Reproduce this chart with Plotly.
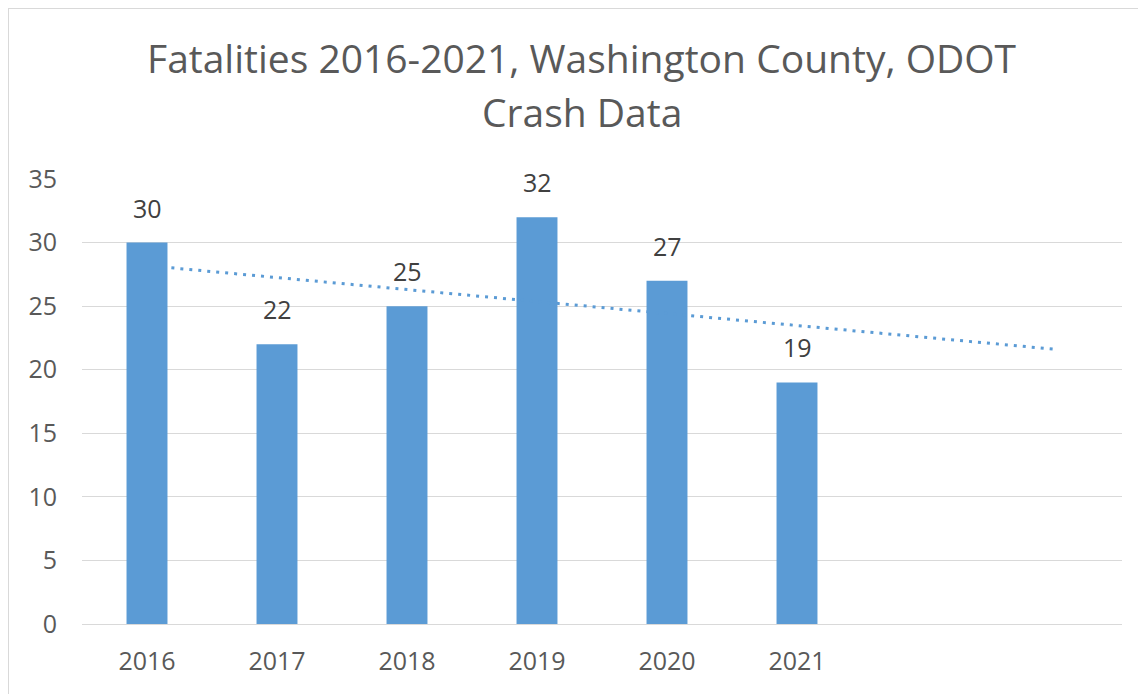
import numpy as np
import plotly.graph_objects as go

years = [2016, 2017, 2018, 2019, 2020, 2021]
fatalities = [30, 22, 25, 32, 27, 19]
y_ticks = [0, 5, 10, 15, 20, 25, 30, 35]
forecast_periods = 2
title_lines = ["Fatalities 2016-2021, Washington County, ODOT", "Crash Data"]

BAR_COLOR = "#5B9BD5"
TEXT_GRAY = "#595959"
LABEL_GRAY = "#404040"
GRID = "#D9D9D9"
FONT = "Open Sans"

# Linear trendline (least squares fit, like Excel), forecast forward 2 periods
coef = np.polyfit(years, fatalities, 1)
bar_width = 0.315
trend_x = np.array([years[0] + bar_width / 2 + 0.03, years[-1] + forecast_periods])
trend_y = np.polyval(coef, trend_x)

W, H = 1138, 686
L, R, T, B = 74, 24, 171, 70
PW, PH = W - L - R, H - T - B

def px_x(p):
    return (p - L) / PW

def px_y(p):
    return (T + PH - p) / PH

fig = go.Figure()
fig.add_trace(go.Bar(
    x=years, y=fatalities, width=bar_width,
    marker=dict(color=BAR_COLOR, line=dict(width=0)),
    showlegend=False, hoverinfo="x+y",
))
fig.add_trace(go.Scatter(
    x=trend_x, y=trend_y, mode="lines",
    line=dict(color=BAR_COLOR, width=3, dash="3px,6px"),
    showlegend=False, hoverinfo="skip",
))

for yr, v in zip(years, fatalities):
    fig.add_annotation(
        x=yr, y=v, text=str(v), showarrow=False, yshift=35,
        yanchor="middle", font=dict(family=FONT, size=25, color=LABEL_GRAY),
    )

# title as two lines (Excel line spacing)
for line, ypx in zip(title_lines, [50, 104]):
    fig.add_annotation(
        xref="paper", yref="paper", x=px_x(574), y=px_y(ypx),
        text=line, showarrow=False, xanchor="center", yanchor="middle",
        font=dict(family=FONT, size=39, color=TEXT_GRAY),
    )

# chart-area border (only top and left visible in the crop)
fig.add_shape(
    type="rect", xref="paper", yref="paper",
    x0=px_x(0), x1=px_x(W + 20), y0=px_y(H + 20), y1=px_y(0),
    line=dict(color=GRID, width=2), fillcolor="rgba(0,0,0,0)", layer="below",
)

fig.update_layout(
    width=W, height=H,
    margin=dict(l=L, r=R, t=T, b=B),
    paper_bgcolor="white", plot_bgcolor="white",
    font=dict(family=FONT, color=TEXT_GRAY),
    xaxis=dict(
        range=[years[0] - 0.5, years[-1] + forecast_periods + 0.5],
        tickmode="array", tickvals=years, ticktext=[str(y) for y in years],
        showgrid=False, zeroline=False, showline=False, ticks="",
        tickfont=dict(family=FONT, size=25, color=TEXT_GRAY),
        ticklabelstandoff=20,
        fixedrange=True,
    ),
    yaxis=dict(
        range=[0, 35], tickmode="array", tickvals=y_ticks,
        showgrid=True, gridcolor=GRID, gridwidth=1,
        zeroline=True, zerolinecolor=GRID, zerolinewidth=1,
        showline=False, ticks="",
        tickfont=dict(family=FONT, size=25, color=TEXT_GRAY),
        ticklabelstandoff=24,
        fixedrange=True,
    ),
)

fig.write_html("out.html")
